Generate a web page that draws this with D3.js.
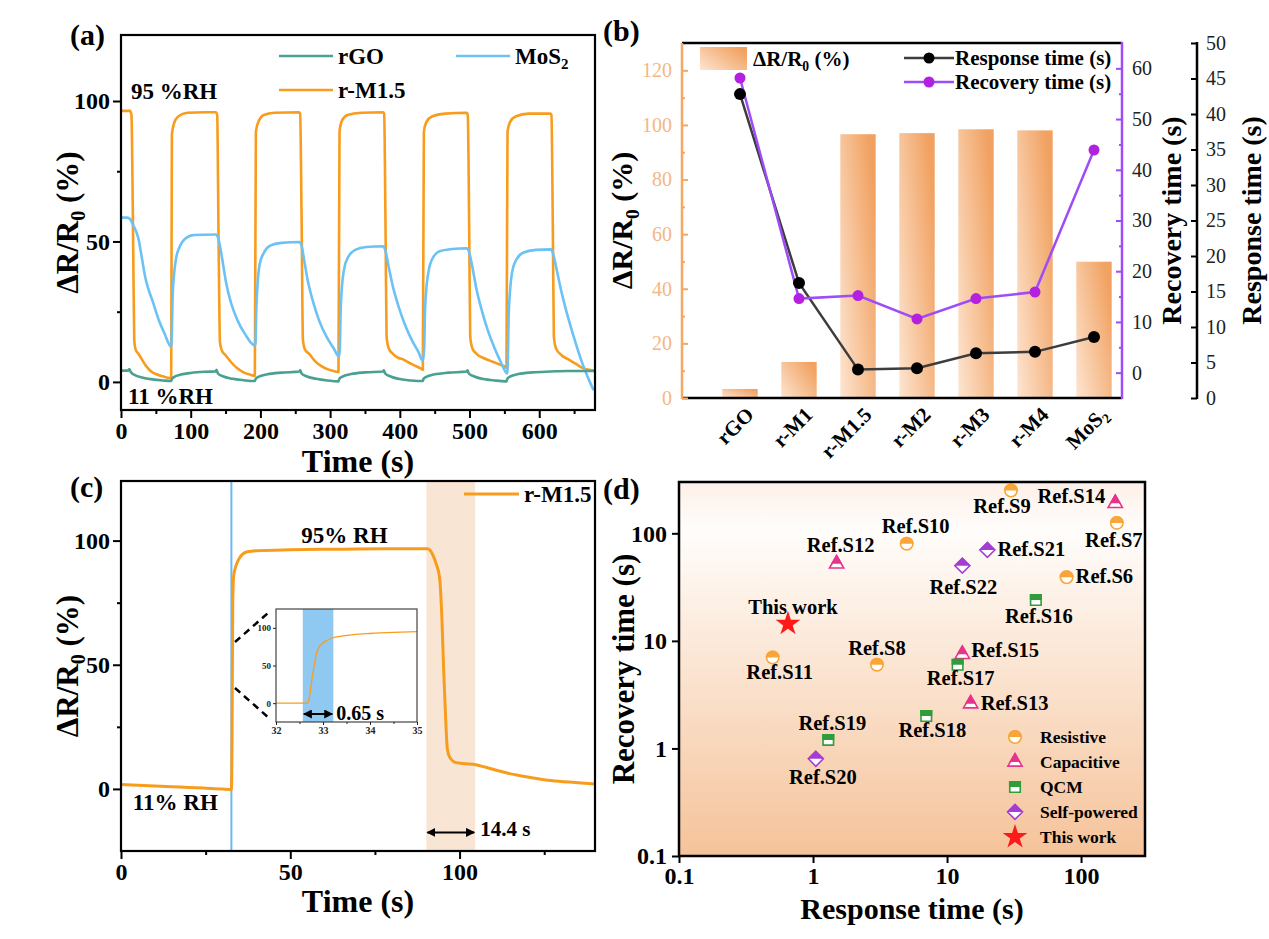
<!DOCTYPE html>
<html>
<head>
<meta charset="utf-8">
<script src="https://cdn.jsdelivr.net/npm/d3@7"></script>
<style>
body { margin: 0; background: #fff; }
svg { display: block; }
</style>
</head>
<body>
<svg id="fig" width="1269" height="939"></svg>
<script>
// ---------- (a) cycling between 11 %RH and 95 %RH ----------
const rgoCycle = [[0,4],[10,4],[12,4.6],[14,3.5],[20,2.4],[30,1.6],[45,0.9],[60,0.5],[72,0.3],[73,1],[76,1.7],[86,2.6],[100,3.2],[120,3.6],[136,3.7],[137,4.3],[139,3],[146,2],[160,1.1],[176,0.6],[192,0.3],[193,1],[197,1.8],[210,2.7],[230,3.3],[256,3.7],[257,4.2],[259,3],[266,2],[280,1.1],[296,0.5],[312,0.2],[313,1],[317,1.8],[330,2.8],[350,3.4],[376,3.7],[377,4.1],[379,3],[386,2],[400,1],[416,0.5],[433,0.3],[434,1.1],[438,1.8],[450,2.7],[470,3.3],[496,3.7],[497,4.1],[499,3],[506,2],[520,1],[536,0.5],[553,0.2],[554,1],[558,1.9],[570,2.8],[590,3.4],[617,3.7],[640,3.9],[680,3.9]];
const mos2Cycle = [[0,58.5],[9,58.5],[13,58],[17,56],[21,54],[25,51],[30,44],[35,37],[40,32.5],[45,29],[55,21.5],[62,17.5],[72,12.5],[73,18],[74,30],[76,38],[79,44],[84,48],[92,51],[105,52.3],[136,52.5],[139,51.5],[143,47],[147,41],[151,35],[158,28],[167,22],[178,17],[192,13],[193,14],[194,25],[196,35],[199,42],[205,46],[214,48.5],[230,49.5],[256,49.8],[259,48.5],[263,43],[268,36],[275,29],[284,22],[295,16],[305,12],[313,9],[314,12],[315,24],[317,34],[320,40],[326,44.5],[336,47],[352,48],[376,48.3],[379,47],[384,41],[390,34],[398,27],[408,20],[418,14.5],[427,10.5],[433,7.5],[435,12],[436,24],[438,33],[441,39],[447,44],[457,46.5],[475,47.3],[496,47.6],[499,46.5],[504,41],[510,33],[517,26],[526,18.5],[536,12],[545,7],[554,3],[555,8],[556,22],[558,32],[561,39],[567,43.5],[577,46],[595,47],[617,47.2],[620,45.5],[625,40],[631,33],[638,26],[646,19],[654,12.5],[662,6.5],[670,1.5],[678,-3]];
const rm15Cycle = [[0,96.5],[13,96.5],[15,95],[17,60],[19,15],[21,11.5],[25,10],[30,8],[35,6],[42,4],[50,2.8],[60,2],[70,1.4],[72,1.5],[73,88],[76,92],[82,94.5],[95,95.8],[120,96],[136,96],[138,95],[140,50],[142,14],[145,11],[150,9.5],[158,7],[166,5],[175,3.5],[185,2.6],[192,2.2],[193.5,89],[197,92.5],[205,95],[220,95.8],[255,96],[257,95.5],[259,60],[261,15],[264,11.5],[270,10],[278,7.5],[288,5.5],[300,4.2],[312,3.5],[313.5,89],[317,93],[325,95],[345,95.8],[376,96],[377.5,95.5],[379.5,55],[381,16],[384,12],[390,10],[398,8.5],[405,8],[412,7],[420,6],[430,4.8],[433,4.3],[434.5,89],[438,92.5],[446,94.5],[465,95.5],[496,95.8],[497.5,95],[499.5,55],[501,16],[504,12],[510,10],[520,8.5],[530,7.5],[540,6.5],[550,5.5],[553,5],[554.5,89],[558,92.5],[566,94.5],[585,95.5],[616,95.5],[617.5,95],[619.5,55],[621,16],[624,12],[632,9.5],[642,8],[652,6.5],[662,5],[672,4.3],[680,4]];
const timeTicksA = [0, 100, 200, 300, 400, 500, 600];
const valueTicks = [0, 50, 100];

// ---------- (b) sample comparison ----------
const samples = ["rGO", "r-M1", "r-M1.5", "r-M2", "r-M3", "r-M4", "MoS2"];
const responseRatio = [3.3, 13.2, 96.6, 97.0, 98.4, 98.0, 49.9];
const responseTime = [42.8, 16.2, 4.0, 4.2, 6.3, 6.5, 8.6];
const recoveryTime = [58.1, 14.6, 15.2, 10.6, 14.6, 15.9, 43.9];
const ratioTicks = [0, 20, 40, 60, 80, 100, 120];
const recTicks = [0, 10, 20, 30, 40, 50, 60];
const respTicks = [0, 5, 10, 15, 20, 25, 30, 35, 40, 45, 50];

// ---------- (c) single cycle of r-M1.5 ----------
const singleCycle = [[0,1.8],[5,1.5],[10,1.2],[15,0.9],[20,0.6],[25,0.3],[30,0],[32.6,-0.3],[32.8,20],[33.0,75],[33.3,86],[34,90],[35,93],[37.3,95.5],[40,95.9],[50,96.3],[60,96.5],[70,96.6],[80,96.7],[90.6,96.7],[92,94.5],[93,91],[94.1,85],[94.8,68],[95.3,48],[95.9,28],[96.4,16],[97.2,12.5],[98.7,10.7],[101,10.2],[104.8,9.7],[108,8.6],[113.8,6.5],[120,4.8],[125.4,3.6],[130,3],[135,2.5],[140,2]];
const insetRise = [[32,0],[32.67,0],[32.72,12],[32.76,30],[32.82,52],[32.87,68],[32.95,77],[33.05,82],[33.2,86.5],[33.4,89],[33.65,91],[34,92.5],[34.5,94],[35,95]];
const humiditySwitch = 32.6;
const riseWindow = [32.57, 33.22];
const recoverWindow = [90.2, 104.6];
const timeTicksC = [0, 50, 100];
const insetTicks = [32, 33, 34, 35];

// ---------- (d) comparison with reported sensors ----------
const refNames = ["Ref.S6","Ref.S7","Ref.S8","Ref.S9","Ref.S10","Ref.S11","Ref.S12","Ref.S13","Ref.S14","Ref.S15","Ref.S16","Ref.S17","Ref.S18","Ref.S19","Ref.S20","Ref.S21","Ref.S22","This work"];
const refTypes = ["Resistive","Resistive","Resistive","Resistive","Resistive","Resistive","Capacitive","Capacitive","Capacitive","Capacitive","QCM","QCM","QCM","QCM","Self-powered","Self-powered","Self-powered","This work"];
const refResponse = [78, 185, 3, 30, 5, 0.5, 1.5, 15, 180, 13, 46, 12, 7, 1.3, 1.05, 20, 13, 0.65];
const refRecovery = [39, 125, 6, 250, 80, 7, 52, 2.6, 190, 7.5, 24, 6, 2, 1.2, 0.8, 70, 50, 14.4];
const sensorTypes = ["Resistive", "Capacitive", "QCM", "Self-powered", "This work"];
const logTicks = [0.1, 1, 10, 100];

// ---------- style ----------
const FONT = '"Liberation Serif", "Times New Roman", serif';
const COL = { teal: "#4aa091", blue: "#6cc1f5", orange: "#f89c1e", purple: "#9d4cf7",
  purpleDot: "#b420e0", axisOrange: "#f5a865", tickOrange: "#f5b685" };
const typeColor = { "Resistive": "#f8a53a", "Capacitive": "#e8338b", "QCM": "#2f9d3b",
  "Self-powered": "#a63cd6", "This work": "#ff1a1a" };
const typeShape = { "Resistive": "circle", "Capacitive": "triangle", "QCM": "square",
  "Self-powered": "diamond", "This work": "star" };
// label placement for (d): [anchor, dx, dy]
const refLabelPos = {
  "Ref.S6": ["start", 9, 6], "Ref.S7": ["middle", -3, 24], "Ref.S8": ["middle", 0, -10],
  "Ref.S9": ["middle", -9, 22], "Ref.S10": ["middle", 9, -11], "Ref.S11": ["middle", 7, 21],
  "Ref.S12": ["middle", 4, -12], "Ref.S13": ["start", 10, 6], "Ref.S14": ["end", -10, 0],
  "Ref.S15": ["start", 9, 3], "Ref.S16": ["middle", 3, 23], "Ref.S17": ["middle", 3, 20],
  "Ref.S18": ["middle", 6, 21], "Ref.S19": ["middle", 4, -10], "Ref.S20": ["middle", 7, 25],
  "Ref.S21": ["start", 10, 6], "Ref.S22": ["middle", 1, 28], "This work": ["middle", 5, -10]
};

const svg = d3.select("#fig").attr("font-family", FONT);
const defs = svg.append("defs");

const barGrad = defs.append("linearGradient").attr("id", "barGrad")
  .attr("x1", 0).attr("y1", 1).attr("x2", 1).attr("y2", 0.3);
barGrad.append("stop").attr("offset", 0).attr("stop-color", "#fde5d1");
barGrad.append("stop").attr("offset", 1).attr("stop-color", "#f1a262");

const bgGrad = defs.append("linearGradient").attr("id", "bgGrad")
  .attr("x1", 0).attr("y1", 0).attr("x2", 0).attr("y2", 1);
[[0, "#fdf0e9"], [0.13, "#fffdfb"], [1, "#f5c39a"]].forEach(s =>
  bgGrad.append("stop").attr("offset", s[0]).attr("stop-color", s[1]));

defs.append("marker").attr("id", "arrow").attr("viewBox", "0 0 10 10")
  .attr("refX", 9).attr("refY", 5).attr("markerWidth", 4.5).attr("markerHeight", 4.5)
  .attr("orient", "auto-start-reverse")
  .append("path").attr("d", "M0,0L10,5L0,10z").attr("fill", "#000");

defs.append("clipPath").attr("id", "topHalf").append("rect")
  .attr("x", -20).attr("y", -20).attr("width", 40).attr("height", 20);

// helpers
function rich(text, parts, fs) {
  let prevSub = false;
  parts.forEach(([s, sub]) => {
    const t = text.append("tspan").text(s);
    if (sub) t.attr("font-size", fs * 0.65).attr("dy", fs * 0.22);
    else if (prevSub) t.attr("dy", -fs * 0.22);
    prevSub = sub;
  });
  return text;
}
const ratioLabel = [["ΔR/R", false], ["0", true], [" (%)", false]];

function styleAxis(g, size, weight, color, width) {
  g.select(".domain").remove();
  g.attr("font-family", FONT).attr("font-size", size);
  g.selectAll(".tick line").attr("stroke", color).attr("stroke-width", width || 2);
  g.selectAll(".tick text").attr("font-weight", weight).attr("fill", color);
}

function panelLabel(txt, x, y) {
  svg.append("text").attr("x", x).attr("y", y).attr("font-size", 30)
    .attr("font-weight", "bold").text(txt);
}

function vTitle(g, x, y, parts, fs) {
  const t = g.append("text").attr("transform", `translate(${x},${y}) rotate(-90)`)
    .attr("text-anchor", "middle").attr("font-size", fs).attr("font-weight", "bold");
  rich(t, parts, fs);
}

// ==================== (a) ====================
const A = { l: 121, r: 595, t: 35, b: 410 };
const xa = d3.scaleLinear().domain([0, 680]).range([A.l, A.r]);
const ya = d3.scaleLinear().domain([-10, 123.5]).range([A.b, A.t]);
const ga = svg.append("g");
defs.append("clipPath").attr("id", "clipA").append("rect")
  .attr("x", A.l).attr("y", A.t).attr("width", A.r - A.l).attr("height", A.b - A.t);

const lineA = d3.line().x(d => xa(d[0])).y(d => ya(d[1])).curve(d3.curveMonotoneX);
const seriesA = [[rm15Cycle, COL.orange], [mos2Cycle, COL.blue], [rgoCycle, COL.teal]];
ga.append("g").attr("clip-path", "url(#clipA)").selectAll("path").data(seriesA).join("path")
  .attr("d", d => lineA(d[0])).attr("fill", "none").attr("stroke", d => d[1])
  .attr("stroke-width", 2.6).attr("stroke-linejoin", "round");

ga.append("g").attr("transform", `translate(0,${A.b})`)
  .call(d3.axisBottom(xa).tickValues(timeTicksA).tickSize(8).tickPadding(4))
  .call(styleAxis, 24, "bold", "#000");
ga.append("g").attr("transform", `translate(0,${A.b})`)
  .call(d3.axisBottom(xa).tickValues(timeTicksA.map(v => v + 50)).tickSize(4).tickFormat(""))
  .call(styleAxis, 24, "bold", "#000");
ga.append("g").attr("transform", `translate(${A.l},0)`)
  .call(d3.axisLeft(ya).tickValues(valueTicks).tickSize(8).tickPadding(3))
  .call(styleAxis, 24, "bold", "#000");
ga.append("g").attr("transform", `translate(${A.l},0)`)
  .call(d3.axisLeft(ya).tickValues([25, 75]).tickSize(4).tickFormat(""))
  .call(styleAxis, 24, "bold", "#000");
ga.append("rect").attr("x", A.l).attr("y", A.t).attr("width", A.r - A.l).attr("height", A.b - A.t)
  .attr("fill", "none").attr("stroke", "#000").attr("stroke-width", 2.2);

vTitle(ga, 78, (A.t + A.b) / 2, ratioLabel, 31);
ga.append("text").attr("x", (A.l + A.r) / 2).attr("y", 472).attr("text-anchor", "middle")
  .attr("font-size", 32).attr("font-weight", "bold").text("Time (s)");

const legA = [
  { parts: [["rGO", false]], color: COL.teal, x: 279, y: 56 },
  { parts: [["MoS", false], ["2", true]], color: COL.blue, x: 456, y: 56 },
  { parts: [["r-M1.5", false]], color: COL.orange, x: 279, y: 90 }
];
legA.forEach(d => {
  ga.append("line").attr("x1", d.x).attr("x2", d.x + 54).attr("y1", d.y).attr("y2", d.y)
    .attr("stroke", d.color).attr("stroke-width", 2.6);
  rich(ga.append("text").attr("x", d.x + 59).attr("y", d.y + 8).attr("font-size", 23)
    .attr("font-weight", "bold"), d.parts, 23);
});
ga.append("text").attr("x", 131).attr("y", 99).attr("font-size", 23).attr("font-weight", "bold").text("95 %RH");
ga.append("text").attr("x", 128).attr("y", 404).attr("font-size", 23).attr("font-weight", "bold").text("11 %RH");
panelLabel("(a)", 70, 45);

// ==================== (b) ====================
const B = { l: 682, r: 1122, t: 43, b: 398, resp: 1197 };
const xb = d3.scaleBand().domain(samples).range([B.l + 28.5, B.r + 1.5])
  .paddingInner(0.4).paddingOuter(0.2);
const yL = d3.scaleLinear().domain([0, 130]).range([B.b, B.t]);
const yRec = d3.scaleLinear().domain([-5, 65]).range([B.b, B.t]);
const yResp = d3.scaleLinear().domain([0, 50]).range([B.b, B.t]);
const cx = d => xb(d) + xb.bandwidth() / 2;
const gb = svg.append("g");

gb.selectAll("rect.bar").data(samples).join("rect").attr("class", "bar")
  .attr("x", d => xb(d)).attr("width", xb.bandwidth())
  .attr("y", (d, i) => yL(responseRatio[i])).attr("height", (d, i) => yL(0) - yL(responseRatio[i]))
  .attr("fill", "url(#barGrad)");

const lineResp = d3.line().x((d, i) => cx(samples[i])).y(d => yResp(d));
const lineRec = d3.line().x((d, i) => cx(samples[i])).y(d => yRec(d));
gb.append("path").attr("d", lineResp(responseTime)).attr("fill", "none")
  .attr("stroke", "#3d3d3d").attr("stroke-width", 2.5);
gb.append("path").attr("d", lineRec(recoveryTime)).attr("fill", "none")
  .attr("stroke", COL.purple).attr("stroke-width", 2.5);
gb.selectAll("circle.resp").data(responseTime).join("circle").attr("class", "resp")
  .attr("cx", (d, i) => cx(samples[i])).attr("cy", d => yResp(d)).attr("r", 6).attr("fill", "#000");
gb.selectAll("circle.rec").data(recoveryTime).join("circle").attr("class", "rec")
  .attr("cx", (d, i) => cx(samples[i])).attr("cy", d => yRec(d)).attr("r", 5.5).attr("fill", COL.purpleDot);

// frame pieces
gb.append("line").attr("x1", B.l).attr("x2", B.r).attr("y1", B.t).attr("y2", B.t)
  .attr("stroke", "#000").attr("stroke-width", 2.5);
gb.append("line").attr("x1", B.l).attr("x2", B.r).attr("y1", B.b).attr("y2", B.b)
  .attr("stroke", "#000").attr("stroke-width", 2.5);
gb.append("line").attr("x1", B.l).attr("x2", B.l).attr("y1", B.t).attr("y2", B.b + 1)
  .attr("stroke", COL.axisOrange).attr("stroke-width", 2.5);
gb.append("line").attr("x1", B.r).attr("x2", B.r).attr("y1", B.t - 1).attr("y2", B.b + 1)
  .attr("stroke", COL.purple).attr("stroke-width", 2.5);
gb.append("line").attr("x1", B.resp).attr("x2", B.resp).attr("y1", B.t - 1).attr("y2", B.b + 1)
  .attr("stroke", "#000").attr("stroke-width", 2.5);

gb.append("g").attr("transform", `translate(${B.l},0)`)
  .call(d3.axisLeft(yL).tickValues(ratioTicks).tickSize(-6).tickPadding(10))
  .call(styleAxis, 20, "normal", COL.tickOrange)
  .call(g => g.selectAll(".tick line").attr("stroke", COL.axisOrange));
gb.append("g").attr("transform", `translate(${B.l},0)`)
  .call(d3.axisLeft(yL).tickValues(ratioTicks.slice(0, -1).map(v => v + 10)).tickSize(-3).tickFormat(""))
  .call(styleAxis, 20, "normal", COL.axisOrange);
gb.append("g").attr("transform", `translate(${B.r},0)`)
  .call(d3.axisRight(yRec).tickValues(recTicks).tickSize(-6).tickPadding(10))
  .call(styleAxis, 20, "normal", "#222")
  .call(g => g.selectAll(".tick line").attr("stroke", COL.purple));
gb.append("g").attr("transform", `translate(${B.r},0)`)
  .call(d3.axisRight(yRec).tickValues(recTicks.slice(0, -1).map(v => v + 5)).tickSize(-3).tickFormat(""))
  .call(styleAxis, 20, "normal", COL.purple);
gb.append("g").attr("transform", `translate(${B.resp},0)`)
  .call(d3.axisRight(yResp).tickValues(respTicks).tickSize(-6).tickPadding(9))
  .call(styleAxis, 20, "normal", "#222")
  .call(g => g.selectAll(".tick line").attr("stroke", "#000"));

// category labels
gb.selectAll("text.cat").data(samples).join("text").attr("class", "cat")
  .attr("transform", d => `translate(${cx(d) + 15},${B.b + 18}) rotate(-45)`)
  .attr("text-anchor", "end").attr("font-size", 21).attr("font-weight", "bold")
  .each(function (d) {
    const t = d3.select(this);
    if (d === "MoS2") rich(t, [["MoS", false], ["2", true]], 21);
    else t.text(d);
  });

vTitle(gb, 632, (B.t + B.b) / 2, ratioLabel, 30);
vTitle(gb, 1181, (B.t + B.b) / 2, [["Recovery time (s)", false]], 28);
vTitle(gb, 1261, (B.t + B.b) / 2, [["Response time (s)", false]], 28);

// legend (b)
gb.append("rect").attr("x", 700).attr("y", 47).attr("width", 47).attr("height", 23).attr("fill", "url(#barGrad)");
rich(gb.append("text").attr("x", 753).attr("y", 66).attr("font-size", 21).attr("font-weight", "bold"), ratioLabel, 21);
[["Response time (s)", "#3d3d3d", "#000", 58], ["Recovery time (s)", COL.purple, COL.purpleDot, 82]].forEach(d => {
  gb.append("line").attr("x1", 904).attr("x2", 954).attr("y1", d[3]).attr("y2", d[3])
    .attr("stroke", d[1]).attr("stroke-width", 2.5);
  gb.append("circle").attr("cx", 929).attr("cy", d[3]).attr("r", 5.5).attr("fill", d[2]);
  gb.append("text").attr("x", 955).attr("y", d[3] + 7).attr("font-size", 21)
    .attr("font-weight", "bold").text(d[0]);
});
panelLabel("(b)", 603, 41);

// ==================== (c) ====================
const C = { l: 121, r: 595, t: 481, b: 851 };
const xc = d3.scaleLinear().domain([0, 140]).range([C.l, C.r]);
const yc = d3.scaleLinear().domain([-25, 124]).range([C.b, C.t]);
const gc = svg.append("g");

gc.append("rect").attr("x", xc(recoverWindow[0])).attr("y", C.t)
  .attr("width", xc(recoverWindow[1]) - xc(recoverWindow[0])).attr("height", C.b - C.t)
  .attr("fill", "#f9e5d3");
gc.append("line").attr("x1", xc(humiditySwitch)).attr("x2", xc(humiditySwitch))
  .attr("y1", C.t).attr("y2", C.b).attr("stroke", "#6ab9f1").attr("stroke-width", 2);
const lineC = d3.line().x(d => xc(d[0])).y(d => yc(d[1])).curve(d3.curveMonotoneX);
gc.append("path").attr("d", lineC(singleCycle)).attr("fill", "none")
  .attr("stroke", COL.orange).attr("stroke-width", 3);

gc.append("g").attr("transform", `translate(0,${C.b})`)
  .call(d3.axisBottom(xc).tickValues(timeTicksC).tickSize(8).tickPadding(4))
  .call(styleAxis, 24, "bold", "#000");
gc.append("g").attr("transform", `translate(0,${C.b})`)
  .call(d3.axisBottom(xc).tickValues(timeTicksC.map(v => v + 25)).tickSize(4).tickFormat(""))
  .call(styleAxis, 24, "bold", "#000");
gc.append("g").attr("transform", `translate(${C.l},0)`)
  .call(d3.axisLeft(yc).tickValues(valueTicks).tickSize(8).tickPadding(3))
  .call(styleAxis, 24, "bold", "#000");
gc.append("g").attr("transform", `translate(${C.l},0)`)
  .call(d3.axisLeft(yc).tickValues([25, 75]).tickSize(4).tickFormat(""))
  .call(styleAxis, 24, "bold", "#000");
gc.append("rect").attr("x", C.l).attr("y", C.t).attr("width", C.r - C.l).attr("height", C.b - C.t)
  .attr("fill", "none").attr("stroke", "#000").attr("stroke-width", 2.2);

// recovery arrow
const arrowY = yc(-17.5);
gc.append("line").attr("x1", xc(recoverWindow[0]) + 1).attr("x2", xc(recoverWindow[1]) - 1)
  .attr("y1", arrowY).attr("y2", arrowY).attr("stroke", "#000").attr("stroke-width", 2)
  .attr("marker-start", "url(#arrow)").attr("marker-end", "url(#arrow)");
gc.append("text").attr("x", xc(recoverWindow[1]) + 5).attr("y", arrowY + 4).attr("font-size", 21)
  .attr("font-weight", "bold").text((recoverWindow[1] - recoverWindow[0]).toFixed(1) + " s");

gc.append("text").attr("x", xc(66)).attr("y", yc(99)).attr("text-anchor", "middle")
  .attr("font-size", 23).attr("font-weight", "bold").text("95% RH");
gc.append("text").attr("x", xc(3.5)).attr("y", yc(-8.5))
  .attr("font-size", 23).attr("font-weight", "bold").text("11% RH");

// legend (c)
gc.append("line").attr("x1", 464).attr("x2", 519).attr("y1", 494).attr("y2", 494)
  .attr("stroke", COL.orange).attr("stroke-width", 3);
gc.append("text").attr("x", 524).attr("y", 502).attr("font-size", 23).attr("font-weight", "bold").text("r-M1.5");

// inset
const I = { l: 276, r: 417, t: 609, b: 722 };
const xi = d3.scaleLinear().domain([32, 35]).range([I.l, I.r]);
const yi = d3.scaleLinear().domain([-25, 125]).range([I.b, I.t]);
const gi = gc.append("g");
gi.append("rect").attr("x", I.l).attr("y", I.t).attr("width", I.r - I.l).attr("height", I.b - I.t)
  .attr("fill", "#fff");
gi.append("rect").attr("x", xi(riseWindow[0])).attr("y", I.t)
  .attr("width", xi(riseWindow[1]) - xi(riseWindow[0])).attr("height", I.b - I.t).attr("fill", "#8fc8f0");
const lineI = d3.line().x(d => xi(d[0])).y(d => yi(d[1])).curve(d3.curveMonotoneX);
gi.append("path").attr("d", lineI(insetRise)).attr("fill", "none")
  .attr("stroke", COL.orange).attr("stroke-width", 1.3);
gi.append("rect").attr("x", I.l).attr("y", I.t).attr("width", I.r - I.l).attr("height", I.b - I.t)
  .attr("fill", "none").attr("stroke", "#444").attr("stroke-width", 1.2);
gi.append("g").attr("transform", `translate(0,${I.b})`)
  .call(d3.axisBottom(xi).tickValues(insetTicks).tickSize(3).tickPadding(2).tickFormat(d3.format("d")))
  .call(styleAxis, 10, "bold", "#222", 1);
gi.append("g").attr("transform", `translate(0,${I.b})`)
  .call(d3.axisBottom(xi).tickValues(insetTicks.slice(0, -1).map(v => v + 0.5)).tickSize(2).tickFormat(""))
  .call(styleAxis, 10, "bold", "#222", 1);
gi.append("g").attr("transform", `translate(${I.l},0)`)
  .call(d3.axisLeft(yi).tickValues(valueTicks).tickSize(3).tickPadding(2))
  .call(styleAxis, 9, "bold", "#222", 1);
const riseArrowY = I.b - 8;
gi.append("line").attr("x1", xi(riseWindow[0]) + 1).attr("x2", xi(riseWindow[1]) - 1)
  .attr("y1", riseArrowY).attr("y2", riseArrowY).attr("stroke", "#000").attr("stroke-width", 2)
  .attr("marker-start", "url(#arrow)").attr("marker-end", "url(#arrow)");
gi.append("text").attr("x", xi(riseWindow[1]) + 3).attr("y", riseArrowY + 6).attr("font-size", 20)
  .attr("font-weight", "bold").text((riseWindow[1] - riseWindow[0]).toFixed(2) + " s");
// zoom guide lines
[[[I.l - 41, I.t + 33], [I.l - 8, I.t + 4]], [[I.l - 41, I.b - 34], [I.l - 7, I.b - 4]]].forEach(p => {
  gi.append("line").attr("x1", p[0][0]).attr("y1", p[0][1]).attr("x2", p[1][0]).attr("y2", p[1][1])
    .attr("stroke", "#000").attr("stroke-width", 2.5).attr("stroke-dasharray", "7,5");
});

vTitle(gc, 78, (C.t + C.b) / 2, ratioLabel, 31);
gc.append("text").attr("x", (C.l + C.r) / 2).attr("y", 912).attr("text-anchor", "middle")
  .attr("font-size", 32).attr("font-weight", "bold").text("Time (s)");
panelLabel("(c)", 70, 497);

// ==================== (d) ====================
const D = { l: 679, r: 1145, t: 482, b: 856 };
const xd = d3.scaleLog().domain([0.1, 300]).range([D.l, D.r]);
const yd = d3.scaleLog().domain([0.1, 300]).range([D.b, D.t]);
const gd = svg.append("g");
gd.append("rect").attr("x", D.l).attr("y", D.t).attr("width", D.r - D.l).attr("height", D.b - D.t)
  .attr("fill", "url(#bgGrad)");

const diamond = { draw(ctx, size) { const r = Math.sqrt(size / 2);
  ctx.moveTo(0, -r); ctx.lineTo(r, 0); ctx.lineTo(0, r); ctx.lineTo(-r, 0); ctx.closePath(); } };
const symbols = {
  circle: d3.symbol(d3.symbolCircle, 120)(),
  triangle: d3.symbol(d3.symbolTriangle, 88)(),
  square: d3.symbol(d3.symbolSquare, 110)(),
  diamond: d3.symbol(diamond, 110)(),
  star: d3.symbol(d3.symbolStar, 190)()
};
function drawMarker(g, type) {
  const color = typeColor[type], shape = typeShape[type];
  if (shape === "star") {
    g.append("path").attr("d", symbols.star).attr("fill", color);
    return;
  }
  g.append("path").attr("d", symbols[shape]).attr("fill", "#fff")
    .attr("stroke", color).attr("stroke-width", 1.6);
  g.append("path").attr("d", symbols[shape]).attr("fill", color)
    .attr("stroke", color).attr("stroke-width", 1.6).attr("clip-path", "url(#topHalf)");
}

refNames.forEach((name, i) => {
  const g = gd.append("g").attr("transform", `translate(${xd(refResponse[i])},${yd(refRecovery[i])})`);
  drawMarker(g, refTypes[i]);
  const p = refLabelPos[name];
  g.append("text").attr("x", p[1]).attr("y", p[2]).attr("text-anchor", p[0])
    .attr("font-size", 20.5).attr("font-weight", "bold").text(name);
});

// legend (d)
sensorTypes.forEach((t, i) => {
  const g = gd.append("g").attr("transform", `translate(1015,${737 + i * 25})`);
  drawMarker(g, t);
  g.append("text").attr("x", 25).attr("y", 6).attr("font-size", 17.5).attr("font-weight", "bold").text(t);
});

gd.append("g").attr("transform", `translate(0,${D.b})`)
  .call(d3.axisBottom(xd).tickValues(logTicks).tickSize(7).tickPadding(4).tickFormat(d => String(d)))
  .call(styleAxis, 24, "bold", "#000");
gd.append("g").attr("transform", `translate(${D.l},0)`)
  .call(d3.axisLeft(yd).tickValues(logTicks).tickSize(7).tickPadding(5).tickFormat(d => String(d)))
  .call(styleAxis, 24, "bold", "#000");
gd.append("rect").attr("x", D.l).attr("y", D.t).attr("width", D.r - D.l).attr("height", D.b - D.t)
  .attr("fill", "none").attr("stroke", "#000").attr("stroke-width", 2.5);

vTitle(gd, 634, (D.t + D.b) / 2, [["Recovery time (s)", false]], 31);
gd.append("text").attr("x", (D.l + D.r) / 2).attr("y", 919).attr("text-anchor", "middle")
  .attr("font-size", 30).attr("font-weight", "bold").text("Response time (s)");
panelLabel("(d)", 603, 499);
</script>
</body>
</html>
